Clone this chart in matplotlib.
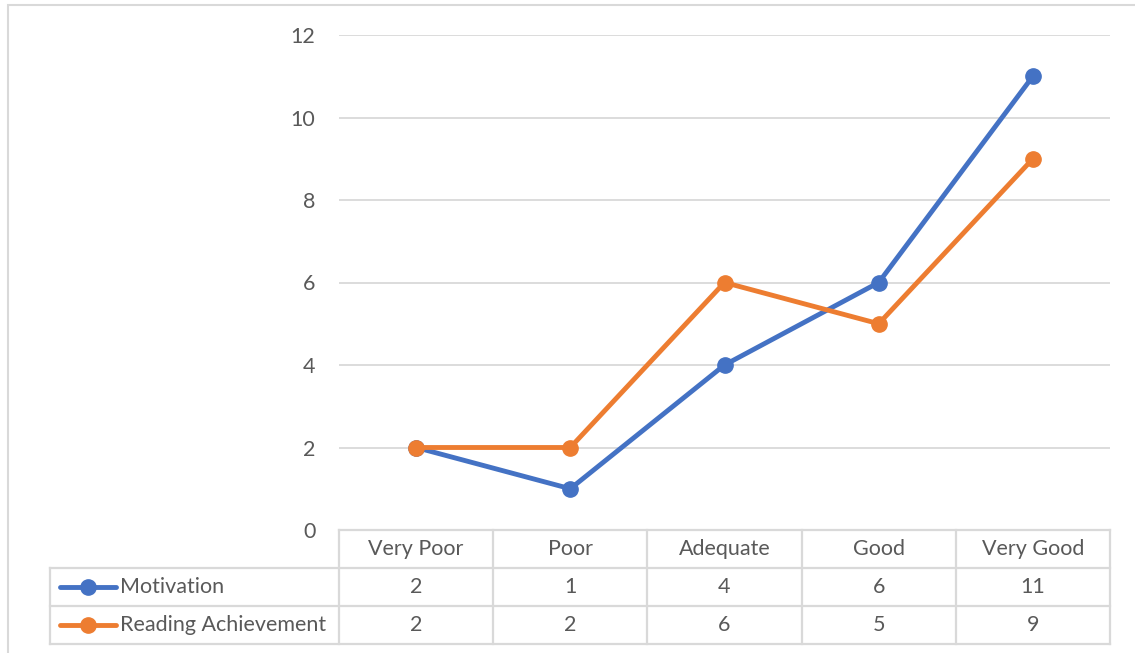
import matplotlib.pyplot as plt
from matplotlib.lines import Line2D
from matplotlib.patches import Rectangle

categories = ['Very Poor', 'Poor', 'Adequate', 'Good', 'Very Good']
motivation = [2, 1, 4, 6, 11]
reading = [2, 2, 6, 5, 9]
series_names = ['Motivation', 'Reading Achievement']
series_colors = ['#4472C4', '#ED7D31']
yticks = [0, 2, 4, 6, 8, 10, 12]

W, H = 1135, 653
plt.rcParams['font.family'] = ['Lato', 'DejaVu Sans']
fig = plt.figure(figsize=(W / 100, H / 100), dpi=100)

# helpers for pixel -> figure fraction
def fx(px):
    return px / W

def fy(py):
    return 1 - py / H

grey = '#d9d9d9'
txt = '#595959'
fs = 15.5

# outer chart border
fig.patches.append(Rectangle((fx(8), fy(700)), fx(1200), fy(5) - fy(700),
                             transform=fig.transFigure, fill=False,
                             edgecolor=grey, lw=1.5))

left, right = 339, 1110
top, bottom = 35, 530
ax = fig.add_axes([fx(left), fy(bottom), fx(right) - fx(left), fy(top) - fy(bottom)])
x = range(len(categories))
for vals, name, col in zip([motivation, reading], series_names, series_colors):
    ax.plot(x, vals, color=col, lw=3.5, marker='o', markersize=11,
            solid_capstyle='round', label=name, zorder=3)
ax.set_xlim(-0.5, len(categories) - 0.5)
ax.set_ylim(0, 12)
ax.set_yticks(yticks)
ax.grid(axis='y', color=grey, lw=1.3)
ax.set_axisbelow(True)
for s in ax.spines.values():
    s.set_visible(False)
ax.set_xticks([])
ax.tick_params(axis='y', length=0, pad=17, labelsize=fs, labelcolor=txt)

# data table below the axes
col_w = (right - left) / len(categories)
rows_y = [530, 568, 606, 644]
lab_left = 50

def hline(y, x0, x1):
    fig.add_artist(Line2D([fx(x0), fx(x1)], [fy(y), fy(y)], color=grey, lw=1.6))

def vline(x0, y0, y1):
    fig.add_artist(Line2D([fx(x0), fx(x0)], [fy(y0), fy(y1)], color=grey, lw=1.6))

hline(rows_y[0], left, right)
for y in rows_y[1:]:
    hline(y, lab_left, right)
for i in range(len(categories) + 1):
    vline(left + i * col_w, rows_y[0], rows_y[3])
vline(lab_left, rows_y[1], rows_y[3])

for i, c in enumerate(categories):
    fig.text(fx(left + (i + 0.5) * col_w), fy((rows_y[0] + rows_y[1]) / 2), c,
             ha='center', va='center', fontsize=fs, color=txt)

for r, (vals, name, col) in enumerate(zip([motivation, reading], series_names, series_colors)):
    yc = (rows_y[r + 1] + rows_y[r + 2]) / 2
    fig.add_artist(Line2D([fx(60), fx(116)], [fy(yc), fy(yc)], color=col, lw=3.5,
                          solid_capstyle='round'))
    fig.add_artist(Line2D([fx(88)], [fy(yc)], color=col, marker='o', markersize=11))
    fig.text(fx(120), fy(yc), name, ha='left', va='center', fontsize=fs, color=txt)
    for i, v in enumerate(vals):
        fig.text(fx(left + (i + 0.5) * col_w), fy(yc), str(v),
                 ha='center', va='center', fontsize=fs, color=txt)

fig.savefig('out.png', dpi=100)
